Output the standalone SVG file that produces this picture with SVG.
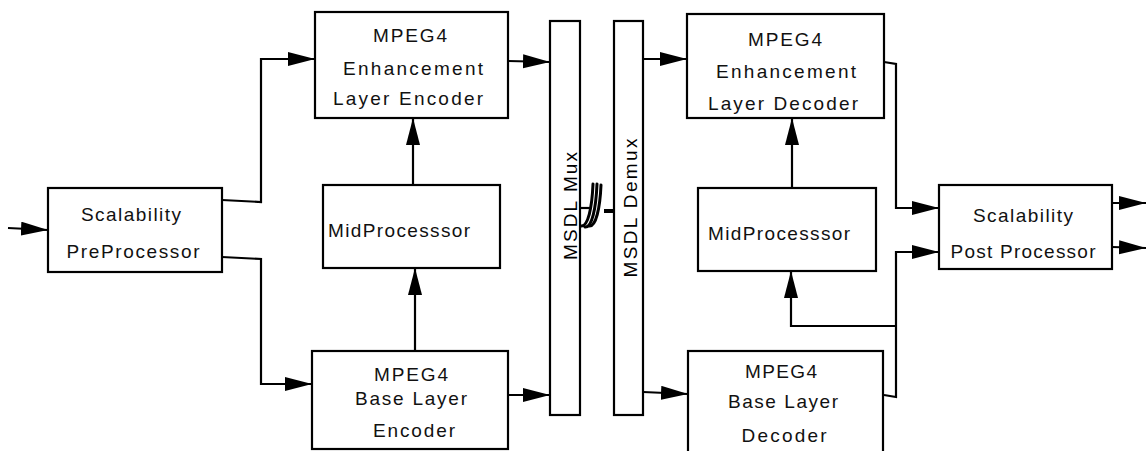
<svg xmlns="http://www.w3.org/2000/svg" width="1146" height="451" viewBox="0 0 1146 451">
<style>
.box{fill:#fff;stroke:#000;stroke-width:2.2}
.t{font-family:"Liberation Sans",Arial,sans-serif;font-size:19px;fill:#111;text-anchor:middle}
.r{font-family:"Liberation Sans",Arial,sans-serif;font-size:19px;fill:#000;text-anchor:middle}
.c{fill:none;stroke:#000;stroke-width:2.2}
.sq{fill:none;stroke:#000;stroke-width:3;stroke-linecap:round}
</style>
<defs>
<marker id="ah" markerUnits="userSpaceOnUse" markerWidth="30" markerHeight="16" refX="27" refY="7" orient="auto">
<path d="M0,0 L27,7 L0,14 Z" fill="#000"/>
</marker>
</defs>
<rect width="1146" height="451" fill="#fff"/>
<g id="connectors">
<path class="c" d="M8,228 L48,230" marker-end="url(#ah)"/>
<path class="c" d="M222,200 L261,202 L261,59 L315,59" marker-end="url(#ah)"/>
<path class="c" d="M222,257 L261,259 L261,384 L312,384" marker-end="url(#ah)"/>
<path class="c" d="M413,185 L413,118" marker-end="url(#ah)"/>
<path class="c" d="M415,351 L415,268" marker-end="url(#ah)"/>
<path class="c" d="M508,61 L550,62" marker-end="url(#ah)"/>
<path class="c" d="M508,395 L550,395" marker-end="url(#ah)"/>
<path class="c" d="M643,59 L687,59" marker-end="url(#ah)"/>
<path class="c" d="M643,392 L688,394" marker-end="url(#ah)"/>
<path class="c" d="M792,188 L792,118" marker-end="url(#ah)"/>
<path class="c" d="M884,62 L896,64 L896,208 L939,208" marker-end="url(#ah)"/>
<path class="c" d="M884,395 L896,397 L896,252 L939,252" marker-end="url(#ah)"/>
<path class="c" d="M896,326 L791,326 L791,271" marker-end="url(#ah)"/>
<path class="c" d="M1112,203 L1146,203" marker-end="url(#ah)"/>
<path class="c" d="M1112,247 L1146,248" marker-end="url(#ah)"/>
<path class="c" d="M580,208 L590,208"/>
<path class="sq" d="M581,226 C588,227 592,208 593,184"/>
<path class="sq" d="M585,227 C592,228 596,208 597,184"/>
<path class="sq" d="M589,226 C596,227 600,208 601,185"/>
<path class="c" style="stroke-width:4" d="M604,211 L614,211"/>
</g>
<g id="pre">
<rect class="box" x="48" y="188" width="174" height="84"/>
<text class="t" x="131" y="221" textLength="100" lengthAdjust="spacing">Scalability</text>
<text class="t" x="133" y="258" textLength="133" lengthAdjust="spacing">PreProcessor</text>
</g>
<g id="enh-enc">
<rect class="box" x="315" y="12" width="193" height="106"/>
<text class="t" x="410" y="42" textLength="74" lengthAdjust="spacing">MPEG4</text>
<text class="t" x="413" y="75" textLength="140" lengthAdjust="spacing">Enhancement</text>
<text class="t" x="408" y="105" textLength="150" lengthAdjust="spacing">Layer Encoder</text>
</g>
<g id="mid-enc">
<rect class="box" x="323" y="185" width="177" height="83"/>
<text class="t" x="399" y="237" textLength="142" lengthAdjust="spacing">MidProcesssor</text>
</g>
<g id="base-enc">
<rect class="box" x="312" y="351" width="196" height="98"/>
<text class="t" x="411" y="381" textLength="74" lengthAdjust="spacing">MPEG4</text>
<text class="t" x="411" y="405" textLength="112" lengthAdjust="spacing">Base Layer</text>
<text class="t" x="414" y="437" textLength="82" lengthAdjust="spacing">Encoder</text>
</g>
<g id="mux">
<rect class="box" x="550" y="21" width="30" height="394"/>
<text class="r" transform="translate(577,206) rotate(-90)" textLength="108" lengthAdjust="spacing">MSDL Mux</text>
</g>
<g id="demux">
<rect class="box" x="614" y="21" width="29" height="394"/>
<text class="r" transform="translate(637,208) rotate(-90)" textLength="139" lengthAdjust="spacing">MSDL Demux</text>
</g>
<g id="enh-dec">
<rect class="box" x="687" y="14" width="197" height="104"/>
<text class="t" x="785" y="46" textLength="74" lengthAdjust="spacing">MPEG4</text>
<text class="t" x="786" y="78" textLength="140" lengthAdjust="spacing">Enhancement</text>
<text class="t" x="783" y="110" textLength="150" lengthAdjust="spacing">Layer Decoder</text>
</g>
<g id="mid-dec">
<rect class="box" x="698" y="188" width="178" height="83"/>
<text class="t" x="779" y="240" textLength="142" lengthAdjust="spacing">MidProcesssor</text>
</g>
<g id="base-dec">
<rect class="box" x="688" y="351" width="195" height="106"/>
<text class="t" x="781" y="378" textLength="72" lengthAdjust="spacing">MPEG4</text>
<text class="t" x="783" y="408" textLength="110" lengthAdjust="spacing">Base Layer</text>
<text class="t" x="784" y="442" textLength="85" lengthAdjust="spacing">Decoder</text>
</g>
<g id="post">
<rect class="box" x="939" y="185" width="173" height="84"/>
<text class="t" x="1023" y="222" textLength="100" lengthAdjust="spacing">Scalability</text>
<text class="t" x="1023" y="258" textLength="145" lengthAdjust="spacing">Post Processor</text>
</g>
</svg>
